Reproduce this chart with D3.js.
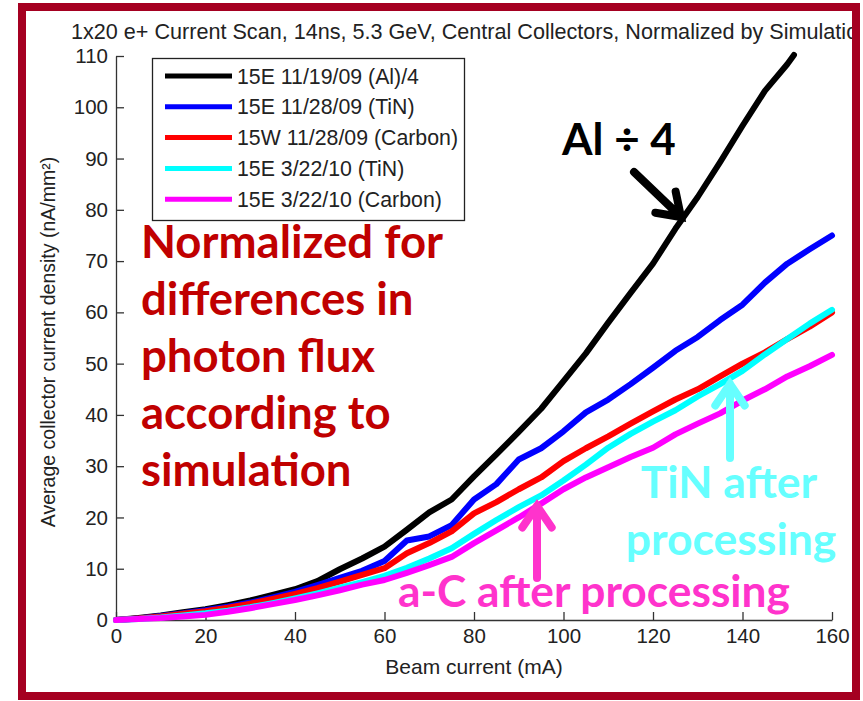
<!DOCTYPE html>
<html>
<head>
<meta charset="utf-8">
<script src="https://cdn.jsdelivr.net/npm/d3@7"></script>
<style>
  body { margin: 0; background: #fff; }
  svg { display: block; }
</style>
</head>
<body>
<svg id="chart"></svg>
<script>
const current = [0,5,10,15,20,25,30,35,40,45,50,55,60,65,70,75,80,85,90,95,100,105,110,115,120,125,130,135,140,145,150,155,160]
// Al run stops a bit earlier
const alCurrent = [0,5,10,15,20,25,30,35,40,45,50,55,60,65,70,75,80,85,90,95,100,105,110,115,120,125,130,135,140,145,150,151.5]

const al111909 = [0,0.4,0.9,1.5,2.1,2.9,3.8,4.9,6.0,7.6,9.9,12.0,14.3,17.6,21.0,23.5,28.0,32.3,36.7,41.2,46.6,52.0,58.0,63.8,69.5,76.3,82.5,89.3,96.4,103.2,108.4,110.2]
const tin112809 = [0,0.3,0.8,1.3,1.9,2.6,3.4,4.4,5.5,6.8,8.2,9.6,11.5,15.5,16.3,18.5,23.5,26.5,31.3,33.5,36.8,40.5,43.0,46.0,49.2,52.5,55.2,58.5,61.5,65.8,69.5,72.3,75.0]
const carbon112809 = [0,0.3,0.7,1.2,1.7,2.4,3.2,4.1,5.1,6.2,7.5,8.8,10.1,13.0,15.0,17.3,20.8,23.0,25.5,27.8,31.0,33.5,35.8,38.3,40.7,43.0,45.0,47.5,50.0,52.2,54.8,57.2,60.0]
const tin032210 = [0,0.2,0.5,0.9,1.3,1.8,2.5,3.3,4.2,5.2,6.3,7.4,8.6,10.2,12.0,14.0,16.8,19.5,22.0,24.3,27.2,30.3,33.6,36.3,38.7,40.9,43.6,46.0,48.6,51.8,54.8,57.8,60.5]
const carbon032210 = [0,0.2,0.4,0.7,1.0,1.6,2.3,3.1,3.9,4.8,5.8,6.9,7.8,9.2,10.7,12.3,15.0,17.5,20.0,22.7,25.5,27.8,29.8,31.8,33.6,36.2,38.3,40.3,42.8,45.0,47.5,49.5,51.7]

const seriesNames = ["15E 11/19/09 (Al)/4","15E 11/28/09 (TiN)","15W 11/28/09 (Carbon)","15E 3/22/10 (TiN)","15E 3/22/10 (Carbon)"]
const seriesColors = ["#000000","#0000ff","#ff0000","#00ffff","#ff00ff"]

const xTicks = [0,20,40,60,80,100,120,140,160]
const yTicks = [0,10,20,30,40,50,60,70,80,90,100,110]

const titleText = "1x20 e+ Current Scan, 14ns, 5.3 GeV, Central Collectors, Normalized by Simulation"
const noteLines = ["Normalized for","differences in","photon flux","according to","simulation"]

document.addEventListener('DOMContentLoaded', function () {
    drawChart()
});

function drawChart() {
    const W = 863, H = 701
    const margin = {top: 56, right: 31, bottom: 81, left: 116},
        width = W - margin.left - margin.right,
        height = H - margin.top - margin.bottom;

    const svg = d3.select("#chart")
        .attr("width", W)
        .attr("height", H)

    svg.append("defs").append("clipPath")
        .attr("id", "inside")
        .append("rect")
        .attr("x", 26).attr("y", 11).attr("width", 826).attr("height", 681)

    const root = svg.append("g").attr("clip-path", "url(#inside)")

    const g = root.append("g")
        .attr("transform", `translate(${margin.left}, ${margin.top})`)

    const x = d3.scaleLinear().domain([0, 160]).range([0, width])
    const y = d3.scaleLinear().domain([0, 110]).range([height, 0])

    const font = "'Liberation Sans', Arial, Helvetica, sans-serif"
    const bold = "Lato, 'Open Sans', sans-serif"

    // title (gets cut by the frame on the right, like the original)
    root.append("text")
        .attr("x", 71)
        .attr("y", 39)
        .style("font-family", font)
        .style("font-size", "21.6px")
        .style("fill", "#222")
        .text(titleText)

    // axes - matlab style, ticks pointing in
    const xAxis = g.append("g")
        .attr("transform", `translate(0, ${height})`)
        .call(d3.axisBottom(x).tickValues(xTicks).tickSize(-8).tickPadding(14).tickSizeOuter(0))
    const yAxis = g.append("g")
        .call(d3.axisLeft(y).tickValues(yTicks).tickSize(-8).tickPadding(8).tickSizeOuter(0))

    ;[xAxis, yAxis].forEach(a => {
        a.selectAll("path, line").attr("stroke", "#333").attr("stroke-width", 1.3)
        a.selectAll("text")
            .style("font-family", font)
            .style("font-size", "20.5px")
            .style("fill", "#222")
    })
    xAxis.selectAll("text").attr("dy", "0.71em").attr("y", 8)

    g.append("text")
        .attr("x", width / 2)
        .attr("y", height + 54)
        .attr("text-anchor", "middle")
        .style("font-family", font)
        .style("font-size", "21px")
        .style("fill", "#222")
        .text("Beam current (mA)")

    g.append("text")
        .attr("transform", `translate(${55 - margin.left}, ${342 - margin.top}) rotate(-90)`)
        .attr("text-anchor", "middle")
        .style("font-family", font)
        .style("font-size", "19.5px")
        .style("fill", "#222")
        .text("Average collector current density (nA/mm²)")

    // the curves
    const allSeries = [
        {xs: alCurrent, ys: al111909},
        {xs: current, ys: tin112809},
        {xs: current, ys: carbon112809},
        {xs: current, ys: tin032210},
        {xs: current, ys: carbon032210}
    ]

    const line = d3.line()
        .x(d => x(d[0]))
        .y(d => y(d[1]))

    allSeries.forEach((s, i) => {
        g.append("path")
            .datum(s.xs.map((c, j) => [c, s.ys[j]]))
            .attr("d", line)
            .attr("fill", "none")
            .attr("stroke", seriesColors[i])
            .attr("stroke-width", 6)
            .attr("stroke-linejoin", "round")
            .attr("stroke-linecap", "round")
    })

    // legend
    const lg = root.append("g")
    lg.append("rect")
        .attr("x", 152.5).attr("y", 58.5)
        .attr("width", 312).attr("height", 162)
        .attr("fill", "#fff")
        .attr("stroke", "#222")
        .attr("stroke-width", 1.3)
    seriesNames.forEach((name, i) => {
        const yy = 76 + i * 30.8
        lg.append("line")
            .attr("x1", 165).attr("x2", 232)
            .attr("y1", yy).attr("y2", yy)
            .attr("stroke", seriesColors[i])
            .attr("stroke-width", 5)
        lg.append("text")
            .attr("x", 237).attr("y", yy + 7.5)
            .style("font-family", font)
            .style("font-size", "21.3px")
            .style("fill", "#222")
            .text(name)
    })

    // big annotations
    noteLines.forEach((t, i) => {
        root.append("text")
            .attr("x", 141)
            .attr("y", 258 + i * 57)
            .style("font-family", bold)
            .style("font-weight", "bold")
            .style("font-size", "45.5px")
            .style("fill", "#c00000")
            .text(t)
    })

    root.append("text")
        .attr("x", 562).attr("y", 155)
        .style("font-family", bold).style("font-weight", "bold")
        .style("font-size", "44px").style("fill", "#000")
        .text("Al ÷ 4")

    root.append("text")
        .attr("x", 729).attr("y", 498)
        .attr("text-anchor", "middle")
        .style("font-family", bold).style("font-weight", "bold")
        .style("font-size", "44.5px").style("fill", "#66ffff")
        .text("TiN after")
    root.append("text")
        .attr("x", 731).attr("y", 555)
        .attr("text-anchor", "middle")
        .style("font-family", bold).style("font-weight", "bold")
        .style("font-size", "44.5px").style("fill", "#66ffff")
        .text("processing")

    root.append("text")
        .attr("x", 594).attr("y", 607)
        .attr("text-anchor", "middle")
        .style("font-family", bold).style("font-weight", "bold")
        .style("font-size", "44.3px").style("fill", "#ff33cc")
        .text("a-C after processing")

    // arrows
    function arrow(x1, y1, x2, y2, col) {
        const a = Math.atan2(y2 - y1, x2 - x1), len = 26, spread = 0.6
        const p = d3.path()
        p.moveTo(x1, y1); p.lineTo(x2, y2)
        p.moveTo(x2 - len * Math.cos(a - spread), y2 - len * Math.sin(a - spread))
        p.lineTo(x2, y2)
        p.lineTo(x2 - len * Math.cos(a + spread), y2 - len * Math.sin(a + spread))
        root.append("path")
            .attr("d", p.toString())
            .attr("fill", "none")
            .attr("stroke", col)
            .attr("stroke-width", 8)
            .attr("stroke-linecap", "round")
            .attr("stroke-linejoin", "miter")
    }
    arrow(634, 172, 681, 217, "#000")
    arrow(730, 458, 730, 384, "#66ffff")
    arrow(537, 578, 537, 506, "#ff33cc")

    // dark red frame
    svg.append("rect")
        .attr("x", 22).attr("y", 7)
        .attr("width", 834).attr("height", 689)
        .attr("fill", "none")
        .attr("stroke", "#a50021")
        .attr("stroke-width", 8)
}
</script>
</body>
</html>
